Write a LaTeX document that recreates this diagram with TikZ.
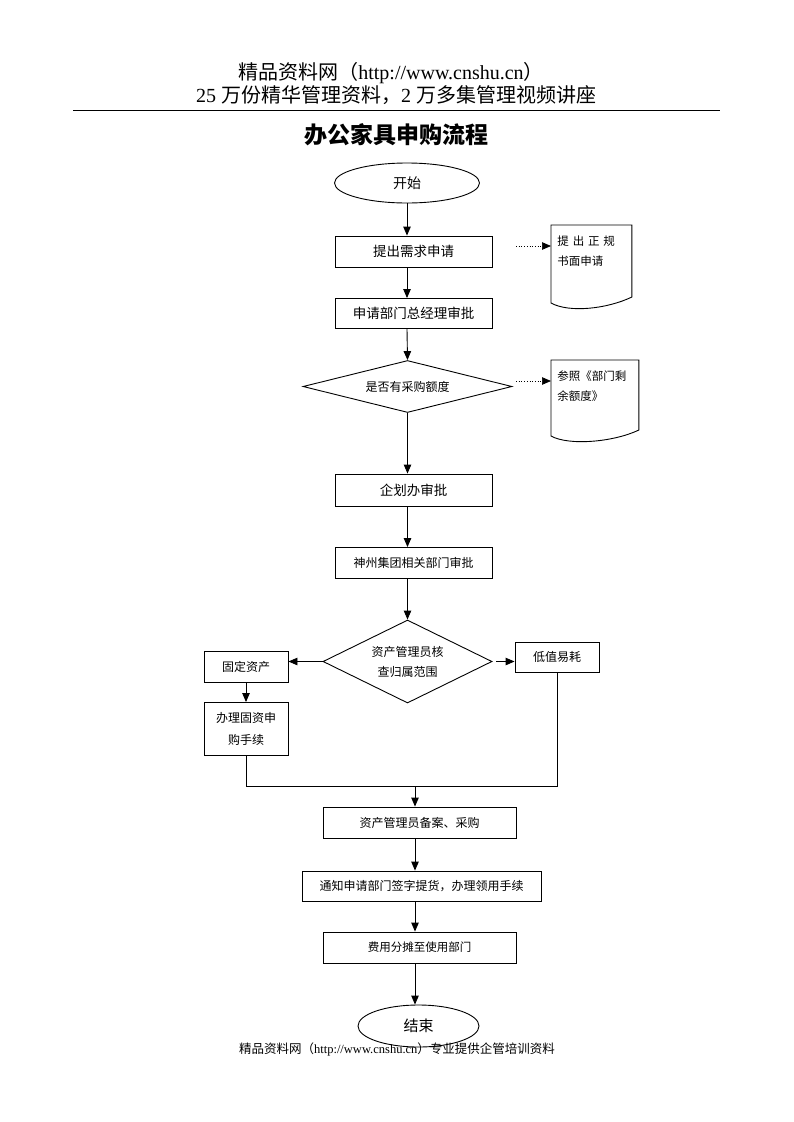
\documentclass[tikz,border=0pt]{standalone}
\usepackage{fontspec}
\setmainfont{Liberation Serif}
\newfontfamily\cjk{Noto Sans CJK SC}
\usetikzlibrary{arrows.meta,positioning,shapes.geometric,calc}
\tikzset{
  every step box/.style={
    draw,
    rectangle,
    inner sep=0pt,
    font=\cjk\fontsize{12}{15}\selectfont
  },
  stepbox/.style={
    every step box,
    minimum width=157pt,
    minimum height=31pt
  },
  small stepbox/.style={
    every step box,
    minimum width=84pt,
    minimum height=31pt,
    align=center,
    font=\cjk\fontsize{12}{22}\selectfont
  },
  terminal/.style={
    draw,
    ellipse,
    inner sep=0pt,
    font=\cjk\fontsize{14}{16}\selectfont
  },
  decision/.style={
    draw,
    diamond,
    inner sep=0pt,
    align=center,
    font=\cjk\fontsize{12}{20}\selectfont
  },
  docbox/.style={
    anchor=north west,
    inner xsep=6pt,
    inner ysep=10pt,
    align=left,
    font=\cjk\fontsize{11.5}{20}\selectfont
  }
}
% outline of a document shape: node, height of right edge
\newcommand\docoutline[2]{
  \draw (#1.north west) -- (#1.north east) -- ++(0,#2)
    .. controls +(-25,12) and +(18,10) .. ($(#1.north west)+(0,#2+6)$) -- cycle;
}

\begin{document}
\begin{tikzpicture} [x=1pt, y=-1pt, >={Triangle[length=9pt,width=7.5pt]},
  line width=0.9pt]
   \useasboundingbox (0,0) rectangle (793,1122);
   % header
   \node[font=\fontsize{20}{22}\selectfont] (head1) at (391,73)
     {{\cjk 精品资料网（}http://www.cnshu.cn{\cjk ）}};
   \node[font=\fontsize{20}{22}\selectfont] (head2) at (396,95)
     {25 {\cjk 万份精华管理资料，}2 {\cjk 万多集管理视频讲座}};
   \draw (73,110) -- (720,110);
   \node[font=\cjk\bfseries\fontsize{23}{25}\selectfont] (title) at (396,135) {办公家具申购流程};

   % main column
   \node[terminal,minimum width=145pt,minimum height=40pt] (start) at (407,183) {开始};
   \node[stepbox,font=\cjk\fontsize{13.5}{15}\selectfont] (b1) at (413.5,251.5) {提出需求申请};
   \node[stepbox,minimum height=30pt,font=\cjk\fontsize{13.5}{15}\selectfont] (b2) at (413.5,313.5) {申请部门总经理审批};
   \node[decision,aspect=4,minimum width=209pt,minimum height=52pt] (d1) at (407.5,386.5) {是否有采购额度};
   \node[stepbox,minimum height=32pt,font=\cjk\fontsize{13.5}{15}\selectfont] (b3) at (413.5,490) {企划办审批};
   \node[stepbox] (b4) at (413.5,563) {神州集团相关部门审批};
   \node[decision,aspect=2,minimum width=169pt,minimum height=83pt] (d2) at (407.5,661.5) {资产管理员核\\查归属范围};
   \node[small stepbox] (fixed) at (246,667) {固定资产};
   \node[small stepbox,minimum height=53pt] (proc) at (246,729) {办理固资申\\购手续};
   \node[small stepbox,minimum height=30pt] (low) at (557,657) {低值易耗};
   \node[stepbox,minimum width=193pt] (b5) at (419.5,822.5) {资产管理员备案、采购};
   \node[stepbox,minimum width=239pt,minimum height=30pt] (b6) at (421.5,886) {通知申请部门签字提货，办理领用手续};
   \node[stepbox,minimum width=193pt,font=\cjk\fontsize{11.5}{15}\selectfont] (b7) at (419.5,947.5) {费用分摊至使用部门};
   \node[terminal,minimum width=121pt,minimum height=42pt,font=\cjk\fontsize{15}{17}\selectfont] (end) at (418.5,1026) {结束};

   % documents
   \node[docbox,text width=68pt] (doc1) at (551,225) {提 出 正 规\\书面申请};
   \docoutline{doc1}{72}
   \node[docbox,text width=75pt] (doc2) at (551,360) {参照《部门剩\\余额度》};
   \docoutline{doc2}{70}
   \coordinate (n1) at (516,246);
   \coordinate (n2) at (516,381);
   \coordinate (join) at (415,786);

   \path[->] (start) edge (start |- b1.north)
             (start |- b1.south) edge (start |- b2.north)
             (start |- b2.south) edge (d1.north)
             (d1.south) edge (d1 |- b3.north)
             (d1 |- b3.south) edge (d1 |- b4.north)
             (d1 |- b4.south) edge (d2.north)
             (d2.west) edge (d2.west -| fixed.east)
             ([xshift=4pt]d2.east) edge (d2.east -| low.west)
             (fixed) edge (proc)
             (join) edge (join |- b5.north)
             (join |- b5.south) edge (join |- b6.north)
             (join |- b6.south) edge (join |- b7.north)
             (join |- b7.south) edge (join |- end.north);
   \draw (proc.south) |- (join) -| (low.south);
   \draw[->,dotted,line width=0.7pt] (n1) -- (n1 -| doc1.west);
   \draw[->,dotted,line width=0.7pt] (n2) -- (n2 -| doc2.west);

   % footer
   \node[font=\fontsize{12.5}{14}\selectfont] (foot) at (397,1049)
     {{\cjk 精品资料网（}http://www.cnshu.cn{\cjk ）专业提供企管培训资料}};
\end{tikzpicture}
\end{document}
